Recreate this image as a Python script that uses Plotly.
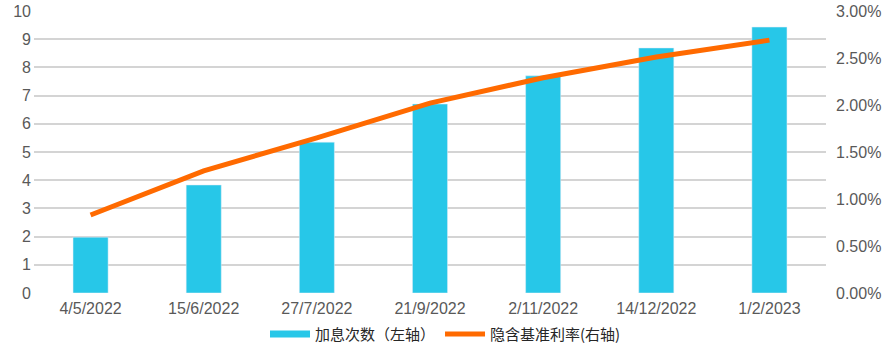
import plotly.graph_objects as go

dates = ["4/5/2022", "15/6/2022", "27/7/2022", "21/9/2022", "2/11/2022", "14/12/2022", "1/2/2023"]
hikes = [1.98, 3.83, 5.35, 6.70, 7.70, 8.69, 9.43]
rate = [0.0083, 0.0130, 0.0165, 0.0202, 0.0229, 0.0251, 0.0269]
left_ticks = list(range(0, 11))
right_ticks = [0, 0.005, 0.01, 0.015, 0.02, 0.025, 0.03]
bar_name = "加息次数（左轴）"
line_name = "隐含基准利率(右轴)"
bar_color = "#27C7E8"
line_color = "#FF6A00"

fig = go.Figure()
fig.add_trace(go.Bar(x=dates, y=hikes, name=bar_name, marker_color=bar_color,
                     width=0.31, yaxis="y", showlegend=False, legendgroup="a"))
# legend entry drawn as a wide swatch like the original
fig.add_trace(go.Scatter(x=[None], y=[None], name=bar_name, mode="lines",
                         line=dict(color=bar_color, width=7), legendgroup="a"))
fig.add_trace(go.Scatter(x=dates, y=rate, name=line_name, mode="lines",
                         line=dict(color=line_color, width=5), yaxis="y2"))

font = dict(family="Liberation Sans, Arial, sans-serif", size=16, color="#595959")
fig.update_layout(
    width=891, height=353,
    margin=dict(l=34, r=65, t=11, b=60, autoexpand=False),
    plot_bgcolor="white", paper_bgcolor="white",
    font=font,
    showlegend=True,
    legend=dict(orientation="h", x=0.5, xanchor="center", xref="container",
                yref="container", y=0.1, yanchor="top",
                font=dict(family="Noto Sans CJK SC, sans-serif", size=15, color="#262626"),
                itemwidth=40, traceorder="normal", tracegroupgap=0),
    xaxis=dict(type="category", showgrid=False, showline=False, ticks="",
               tickfont=font, ticklabelstandoff=4, automargin=False),
    yaxis=dict(range=[0, 10], tickvals=left_ticks, showgrid=True, gridcolor="#D4D4D4",
               gridwidth=1.5, zeroline=False, showline=False, ticks="", tickfont=font,
               automargin=False, ticklabelstandoff=2),
    yaxis2=dict(range=[0, 0.03], tickvals=right_ticks, tickformat=".2%", overlaying="y",
                side="right", showgrid=False, zeroline=False, showline=False, ticks="",
                tickfont=font, ticklabelstandoff=9, automargin=False),
    bargap=0.69,
)
fig.write_html("out.html")
